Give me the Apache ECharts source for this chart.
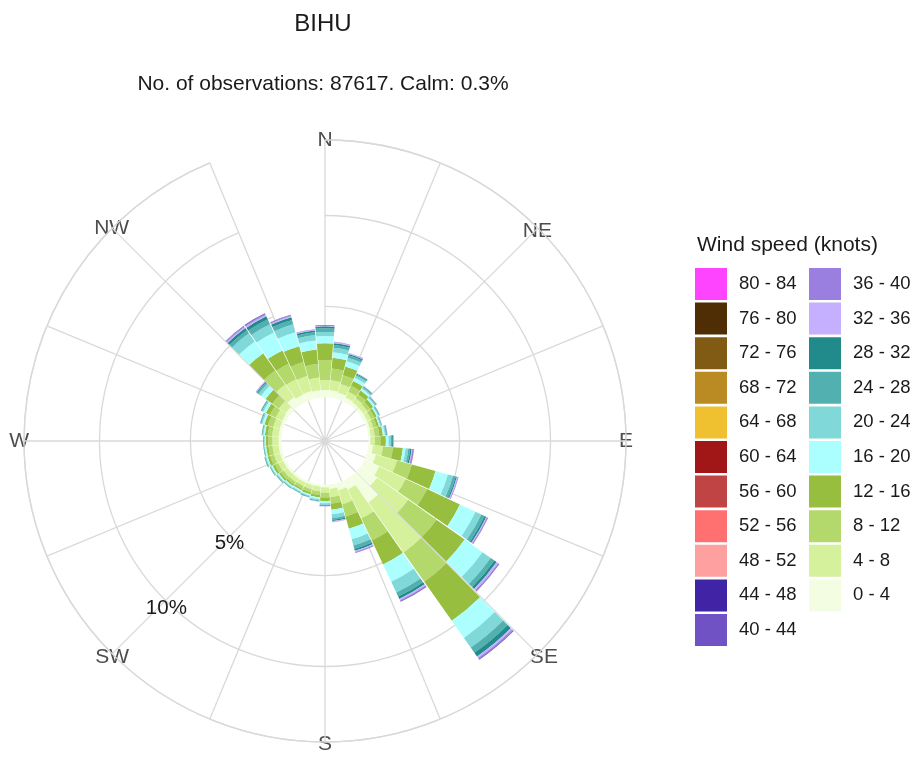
<!DOCTYPE html>
<html>
<head>
<meta charset="utf-8">
<script src="https://cdn.jsdelivr.net/npm/echarts@6/dist/echarts.min.js"></script>
<style>html,body{margin:0;padding:0;background:#fff}#chart{width:916px;height:758px}</style>
</head>
<body>
<div id="chart"></div>
<script>
// ---------- data ----------
const directions = ['0','10','20','30','40','50','60','70','80','90','100','110','120','130','140','150','160','170',
                    '180','190','200','210','220','230','240','250','260','270','280','290','300','310','320','330','340','350'];
const compassLabels = ['N','NNE','NE','ENE','E','ESE','SE','SSE','S','SSW','SW','WSW','W','WNW','NW','NNW'];
const speedBins = ['0 - 4','4 - 8','8 - 12','12 - 16','16 - 20','20 - 24','24 - 28','28 - 32','32 - 36','36 - 40',
                   '40 - 44','44 - 48','48 - 52','52 - 56','56 - 60','60 - 64','64 - 68','68 - 72','72 - 76','76 - 80','80 - 84'];
const percentTicks = {5: '5%', 10: '10%'};

// frequency (%) per direction, one array per speed bin
const spd0_4   = [0.41,0.40,0.35,0.25,0.20,0.20,0.18,0.15,0.12,0.10,0.25,0.50,0.90,1.10,1.74,0.55,0.40,0.25,0.15,0.12,0.12,0.12,0.13,0.14,0.15,0.16,0.16,0.16,0.16,0.18,0.20,0.25,0.55,0.42,0.45,0.40];
const spd4_8   = [0.55,0.55,0.50,0.35,0.30,0.25,0.22,0.20,0.23,0.25,0.55,1.20,1.60,2.10,3.36,1.75,0.80,0.45,0.30,0.26,0.23,0.22,0.24,0.26,0.30,0.34,0.34,0.34,0.36,0.37,0.40,0.45,0.85,0.93,0.85,0.70];
const spd8_12  = [1.10,0.65,0.50,0.35,0.25,0.20,0.20,0.20,0.25,0.30,0.55,0.85,1.30,1.90,1.97,1.35,0.70,0.35,0.25,0.20,0.17,0.16,0.16,0.18,0.20,0.22,0.22,0.22,0.24,0.30,0.35,0.45,0.95,0.95,0.80,0.75];
const spd12_16 = [0.92,0.60,0.50,0.30,0.25,0.20,0.15,0.13,0.20,0.30,0.55,1.35,2.00,1.90,2.63,1.45,0.70,0.35,0.20,0.14,0.12,0.10,0.11,0.12,0.13,0.15,0.13,0.13,0.16,0.20,0.25,0.45,1.15,0.80,0.90,0.80];
const spd16_20 = [0.40,0.30,0.30,0.20,0.12,0.10,0.08,0.07,0.10,0.15,0.15,0.70,0.95,1.20,1.15,1.05,0.60,0.25,0.12,0.10,0.08,0.08,0.08,0.08,0.08,0.08,0.07,0.07,0.08,0.12,0.15,0.30,0.80,1.10,0.80,0.50];
const spd20_24 = [0.22,0.25,0.20,0.13,0.08,0.07,0.05,0.05,0.06,0.12,0.15,0.30,0.35,0.55,0.65,0.65,0.35,0.20,0.08,0.06,0.05,0.05,0.05,0.05,0.05,0.05,0.04,0.04,0.05,0.07,0.08,0.17,0.55,0.50,0.45,0.30];
const spd24_28 = [0.20,0.15,0.13,0.07,0.05,0.04,0.04,0.03,0.04,0.08,0.10,0.15,0.20,0.25,0.35,0.25,0.20,0.10,0.05,0.04,0.03,0.03,0.03,0.03,0.02,0.03,0.02,0.02,0.03,0.04,0.04,0.10,0.20,0.30,0.25,0.15];
const spd28_32 = [0.11,0.10,0.07,0.05,0.03,0.02,0.02,0.02,0.03,0.05,0.08,0.07,0.10,0.15,0.25,0.15,0.10,0.07,0.03,0.02,0.02,0.02,0.02,0.02,0.02,0.02,0.02,0.02,0.02,0.02,0.03,0.05,0.15,0.18,0.15,0.10];
const spd32_36 = [0.04,0.05,0.05,0.02,0.02,0.02,0.01,0.01,0.02,0.03,0.04,0.05,0.05,0.10,0.10,0.08,0.07,0.04,0.02,0.01,0,0,0,0,0,0,0,0,0,0.01,0.01,0.03,0.07,0.08,0.07,0.04];
const spd36_40 = [0.03,0.03,0.02,0,0,0,0,0,0.01,0.02,0.04,0.03,0.05,0.05,0.07,0.05,0.04,0.02,0,0,0,0,0,0,0,0,0,0,0,0,0,0.02,0.05,0.05,0.05,0.03];
const spd40_44 = [0,0,0,0,0,0,0,0,0,0,0.02,0.01,0.02,0.03,0.03,0.03,0.02,0,0,0,0,0,0,0,0,0,0,0,0,0,0,0,0.03,0.04,0.03,0];
const spd44_48 = [0,0,0,0,0,0,0,0,0,0,0.02,0,0,0.01,0.02,0.01,0,0,0,0,0,0,0,0,0,0,0,0,0,0,0,0,0,0.01,0,0];
const spd48_52 = [0,0,0,0,0,0,0,0,0,0,0.01,0,0,0,0,0,0,0,0,0,0,0,0,0,0,0,0,0,0,0,0,0,0,0,0,0];
const spd52_56 = [0,0,0,0,0,0,0,0,0,0,0.01,0,0,0,0,0,0,0,0,0,0,0,0,0,0,0,0,0,0,0,0,0,0,0,0,0];
const speedData = [spd0_4, spd4_8, spd8_12, spd12_16, spd16_20, spd20_24, spd24_28, spd28_32,
                   spd32_36, spd36_40, spd40_44, spd44_48, spd48_52, spd52_56];

// ---------- styles ----------
const binColors = ['#f3fde2','#d5f19b','#b3d86b','#98be3f','#abffff','#80d8d8','#52b0b0','#218b8b',
                   '#c5b0ff','#9a7fe0','#7052c4','#4123a6','#ffa0a0','#ff7070','#c04444','#a11616',
                   '#efc02f','#b98b22','#815b14','#4f2d05','#ff44ff'];
const FONT = 'Liberation Sans, Arial, sans-serif';
const GRID = '#d9d9d9';
const GRID_W = 1.3;
const CX = 325, CY = 441, R = 301;
const RMIN = -2.4, RMAX = 14.15;

// per-label nudges so compass labels sit centred on the outer circle
const labelPad = {N:[0,0,13,0], NE:[0,0,3,2], E:[0,0,0,17], SE:[10,0,0,9], S:[16,0,0,0], SW:[10,0,0,0], W:[0,19,0,0], NW:[0,0,6,0]};

const chart = echarts.init(document.getElementById('chart'));

const series = speedBins.map((name, i) => ({
  type: 'bar', name: name, coordinateSystem: 'polar', polarIndex: 0, stack: 'wind',
  data: speedData[i] || [], barCategoryGap: '4%', silent: true, z: 5,
  itemStyle: {color: binColors[i]}
}));

const leftCol = speedBins.slice(10).reverse();
const rightCol = speedBins.slice(0, 10).reverse();
const legendCommon = {
  orient: 'vertical', top: 268, itemWidth: 32, itemHeight: 32, itemGap: 2.6, icon: 'rect',
  selectedMode: false, padding: 0,
  textStyle: {fontSize: 18.5, color: '#1a1a1a', fontFamily: FONT, padding: [0, 0, 0, 7]}
};
const hiddenAxisParts = {axisLine: {show: false}, axisTick: {show: false}, axisLabel: {show: false}, splitLine: {show: false}};

chart.setOption({
  animation: false,
  backgroundColor: '#fff',
  title: [
    {text: 'BIHU', left: 323, top: 12, textAlign: 'center', padding: 0,
     textStyle: {fontSize: 24, fontWeight: 'normal', color: '#1a1a1a', fontFamily: FONT}},
    {text: 'No. of observations: 87617. Calm: 0.3%', left: 323, top: 74, textAlign: 'center', padding: 0,
     textStyle: {fontSize: 21, fontWeight: 'normal', color: '#1a1a1a', fontFamily: FONT}},
    {text: 'Wind speed (knots)', left: 697, top: 235, padding: 0,
     textStyle: {fontSize: 21, fontWeight: 'normal', color: '#1a1a1a', fontFamily: FONT}}
  ],
  legend: [
    Object.assign({left: 695, data: leftCol}, legendCommon),
    Object.assign({left: 809, data: rightCol}, legendCommon)
  ],
  polar: [
    {center: [CX, CY], radius: R},   // bars
    {center: [CX, CY], radius: R},   // compass labels, outer circle, 5% / 10% rings
    {center: [CX, CY], radius: R},   // percent labels along SW
    {center: [CX, CY], radius: R}    // radial spokes every 22.5 degrees
  ],
  angleAxis: [
    Object.assign({polarIndex: 0, type: 'category', data: directions, startAngle: 95, clockwise: true, boundaryGap: true, z: 0}, hiddenAxisParts),
    {polarIndex: 1, type: 'category', startAngle: 90, clockwise: true, boundaryGap: false, z: 0,
     data: compassLabels.map(c => labelPad[c] ? {value: c, textStyle: {padding: labelPad[c]}} : {value: c}),
     axisLine: {show: true, lineStyle: {color: GRID, width: GRID_W}},
     axisTick: {show: false},
     axisLabel: {interval: 1, margin: -24, fontSize: 21, color: '#4d4d4d', fontFamily: FONT},
     splitLine: {show: false}},
    Object.assign({polarIndex: 2, type: 'value', min: 0, max: 360, startAngle: -134, clockwise: true, z: 0}, hiddenAxisParts),
    {polarIndex: 3, type: 'value', min: 0, max: 360, interval: 22.5, startAngle: 90, clockwise: true, z: 0,
     axisLine: {show: false}, axisTick: {show: false}, axisLabel: {show: false},
     splitLine: {show: true, lineStyle: {color: GRID, width: GRID_W}}}
  ],
  radiusAxis: [
    Object.assign({polarIndex: 0, type: 'value', min: RMIN, max: RMAX, z: 0}, hiddenAxisParts),
    {polarIndex: 1, type: 'value', min: RMIN, max: RMAX, splitNumber: 3, z: 0,
     axisLine: {show: false}, axisTick: {show: false}, axisLabel: {show: false},
     splitLine: {show: true, lineStyle: {color: ['rgba(0,0,0,0)', 'rgba(0,0,0,0)', GRID, GRID, GRID], width: GRID_W}}},
    {polarIndex: 2, type: 'value', min: RMIN, max: RMAX, splitNumber: 3, z: 6,
     axisLine: {show: false}, axisTick: {show: false}, splitLine: {show: false},
     axisLabel: {show: true, margin: 0, align: 'center', verticalAlign: 'middle',
                 fontSize: 20.5, color: '#1a1a1a', fontFamily: FONT, showMinLabel: false, showMaxLabel: false,
                 rich: {p: {fontSize: 20.5, color: '#1a1a1a', fontFamily: FONT, padding: [11, 4, 0, 0]}},
                 formatter: v => percentTicks[v] ? '{p|' + percentTicks[v] + '}' : ''}},
    Object.assign({polarIndex: 3, type: 'value', min: RMIN, max: RMAX, z: 0}, hiddenAxisParts)
  ],
  series: series
});
</script>
</body>
</html>
